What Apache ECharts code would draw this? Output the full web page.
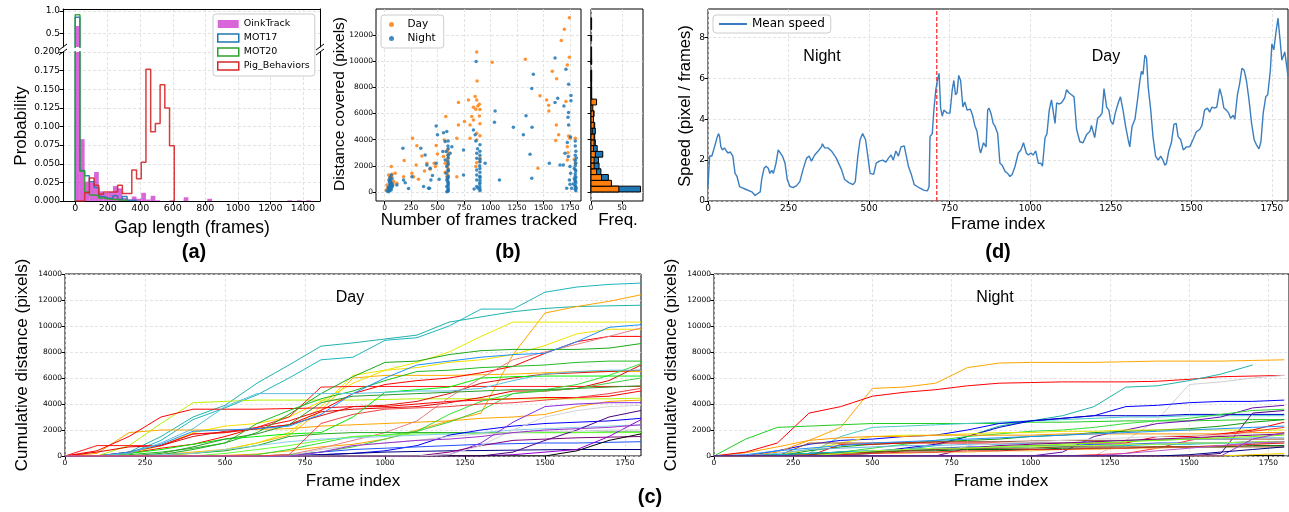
<!DOCTYPE html>
<html><head><meta charset="utf-8">
<script src="https://cdn.jsdelivr.net/npm/echarts@6/dist/echarts.min.js"></script>
<style>html,body{margin:0;padding:0;background:#fff}#c{width:1289px;height:512px}</style>
</head><body><div id="c"></div><script>
// ---------- (a) gap length histograms ----------
const GAP_BIN_WIDTH = 29;
const GAP_OINKTRACK = [0.667,0.083,0.026,0.025,0.039,0.013,0.011,0.012,0.020,0.017,0.004,0.002,0.006,0.003,0.011,0.002,0.007,0.001,0,0,0.001,0,0,0.005,0,0,0,0,0.003,0,0,0,0,0,0,0,0,0,0,0,0,0,0,0,0,0.001,0,0.001,0,0.001];
const GAP_MOT17 = [0.864,0.041,0.034,0.026,0.018,0.006,0.004,0.003,0.007,0.002,0.006,0.001,0.001];
const GAP_MOT20 = [0.917,0.040,0.012,0.008,0.007,0.004,0.003,0.002,0.002,0.001,0.001];
const GAP_PIG = [0,0,0.011,0.031,0.021,0.009,0.012,0.012,0.012,0.021,0.010,0.010,0.0415,0.030,0.052,0.177,0.093,0.104,0.156,0.125,0.074];
const GAP_XTICKS = [0,200,400,600,800,1000,1200,1400];
const GAP_YTICKS_LOW = [0,0.025,0.05,0.075,0.1,0.125,0.15,0.175,0.2];
const GAP_YTICKS_HIGH = [0.5,1.0];

// ---------- (b) scatter + side histogram ----------
const DAY_POINTS = [[1744,13300],[1697,12430],[1668,11570],[1744,10290],[1725,9700],[1583,9220],[1624,8640],[1329,10140],[1015,9910],[870,10680],[873,8480],[1467,7340],[1530,7030],[1549,6620],[1551,6190],[1712,6900],[1621,5120],[1643,4360],[1737,4280],[1615,3920],[1725,3460],[1731,3000],[1725,2450],[1448,1810],[855,7290],[870,7030],[792,7030],[861,6320],[880,6570],[839,6470],[697,6830],[823,5760],[578,5760],[754,5380],[697,5120],[807,5120],[839,5500],[682,4100],[807,4100],[870,4480],[870,3970],[870,2240],[861,1940],[264,4100],[305,3520],[352,2750],[487,3540],[499,2900],[185,2400],[298,2060],[399,2190],[468,2190],[480,1940],[572,2190],[572,1500],[587,1170],[556,2700],[565,3970],[430,1730],[377,1600],[258,1430],[273,1170],[320,970],[179,1170],[682,1170],[63,1940],[100,1430],[69,1170],[38,1300],[85,790],[22,535],[53,790],[60,410],[16,150],[116,660],[45,1000],[55,1200],[70,1350],[30,300],[50,250],[80,600],[600,2600],[595,3200],[600,1800],[590,2000],[598,2800],[600,3000],[595,2400],[600,2200],[600,1600],[598,1300],[900,2300],[900,2600],[895,5800],[900,6300],[895,6700],[900,4300],[900,5200],[1800,2200],[1790,2500],[1800,4100],[1750,4100]];
const NIGHT_POINTS = [[1609,10220],[1712,9375],[1737,8230],[1404,8990],[1389,7900],[864,9960],[1634,7160],[1609,6830],[1759,7360],[1759,6960],[1693,6570],[1737,6060],[1731,5710],[1737,5120],[1756,4200],[1725,3770],[1703,2960],[1734,2700],[1656,2060],[1687,2060],[1750,1940],[1756,1430],[1744,920],[1750,590],[1719,280],[1766,280],[1373,2880],[1392,4940],[1310,4360],[1555,2190],[1335,5810],[1216,4940],[1043,6190],[1037,5320],[949,2190],[1084,920],[1389,1040],[861,3900],[855,4360],[839,4740],[877,3290],[870,2960],[870,2570],[870,1680],[870,1300],[870,920],[870,410],[845,230],[880,300],[745,3210],[745,1300],[587,4610],[572,3850],[581,3080],[572,2450],[587,1940],[581,1430],[587,920],[587,410],[587,25],[556,4530],[550,3080],[619,2960],[635,3460],[487,5040],[499,4360],[487,2190],[452,1250],[437,920],[515,970],[399,2060],[383,2830],[430,1810],[368,410],[415,280],[424,280],[342,3340],[258,1170],[226,255],[173,3340],[179,920],[195,710],[72,410],[38,150],[53,535],[53,920],[63,1300],[38,25],[22,75],[116,535],[600,3900],[598,3500],[600,3300],[600,2800],[600,2600],[598,2300],[600,2100],[600,1700],[600,1600],[600,1200],[600,1100],[598,800],[600,700],[600,600],[600,500],[600,300],[600,200],[600,100],[598,50],[595,1000],[900,3600],[900,3100],[900,2800],[900,2500],[900,2300],[898,2000],[900,1800],[900,1500],[900,1200],[900,1100],[900,900],[900,700],[898,600],[900,400],[900,200],[900,100],[1800,3900],[1800,3500],[1805,3100],[1800,2800],[1800,2400],[1805,2200],[1800,2000],[1800,1700],[1805,1600],[1800,1400],[1800,1200],[1805,1100],[1800,900],[1800,800],[1805,700],[1800,500],[1800,400],[1810,300],[1800,200],[1805,100],[1790,1000],[1790,1800],[1780,600],[1810,2600],[40,200],[45,400],[50,600],[55,800],[60,700],[65,300],[48,100],[70,1000],[42,900],[58,500],[62,150],[35,350],[75,500],[68,650],[52,1100],[47,750]];
const SIDE_BIN_WIDTH = 443;
const SIDE_DAY = [45,33,17,9,5,5,7,4,5,5,2,5,4,4,3,9,1,1,0,1,1,0,1,1,1,0,1,0,1,1];
const SIDE_NIGHT = [80,20,28,16,13,12,19,10,7,6,7,6,3,5,2,3,1,1,1,1,1,0,1,0,0,0,0,0,0,0];
const B_XTICKS = [0,250,500,750,1000,1250,1500,1750];
const B_YTICKS = [0,2000,4000,6000,8000,10000,12000];
const SIDE_XTICKS = [0,50];

// ---------- (d) mean speed ----------
const SPEED = [[0,0.7],[5,2.2],[12,2.2],[17,2.25],[23,2.8],[28,3.1],[33,3.3],[36,3.15],[40,2.65],[45,2.5],[51,2.6],[57,2.45],[62,2.35],[69,2.4],[77,2.2],[84,1.35],[90,1.2],[98,0.7],[105,0.65],[120,0.55],[136,0.45],[146,0.27],[151,0.23],[162,0.45],[167,1.1],[174,1.6],[180,1.7],[187,1.6],[192,1.35],[198,1.5],[203,1.35],[211,1.85],[218,2.5],[223,2.55],[231,2.2],[239,1.85],[246,1.05],[254,0.72],[264,0.65],[275,0.75],[285,0.95],[295,1.55],[306,2.1],[314,2.2],[321,1.95],[331,2.25],[342,2.45],[352,2.65],[355,2.8],[362,2.6],[372,2.6],[383,2.45],[398,2.1],[414,1.55],[424,1.05],[437,0.9],[450,0.8],[457,0.95],[465,2.2],[472,3.0],[480,3.3],[489,3.0],[496,2.2],[503,1.35],[514,1.3],[522,1.85],[532,1.95],[542,2.0],[552,1.9],[560,2.1],[568,2.25],[575,2.0],[583,2.45],[591,2.2],[599,2.65],[609,2.7],[614,2.75],[622,1.7],[630,1.35],[640,0.8],[655,0.65],[671,0.52],[681,0.5],[686,0.7],[689,3.15],[696,3.3],[701,4.45],[707,5.45],[712,5.9],[717,6.25],[722,4.55],[727,4.15],[732,4.45],[743,4.3],[751,4.3],[758,5.45],[763,5.9],[768,5.2],[773,5.3],[778,6.15],[784,5.9],[791,4.6],[797,4.85],[804,4.45],[814,4.5],[821,4.2],[828,3.7],[835,3.4],[842,2.6],[846,2.35],[855,2.85],[863,2.65],[868,4.45],[872,4.55],[878,4.3],[885,3.8],[891,3.65],[899,3.3],[906,1.85],[913,1.75],[922,1.45],[930,1.35],[937,1.2],[944,1.3],[953,1.7],[963,2.35],[971,2.5],[979,2.85],[988,2.35],[994,2.25],[1002,2.35],[1009,2.25],[1017,2.45],[1025,1.85],[1033,1.85],[1038,1.7],[1046,3.1],[1052,3.3],[1059,4.45],[1066,4.95],[1071,4.95],[1077,3.8],[1082,4.8],[1089,4.75],[1097,4.8],[1107,5.05],[1113,5.45],[1120,5.3],[1128,5.2],[1136,5.1],[1144,3.5],[1154,2.9],[1164,2.85],[1175,3.25],[1185,3.4],[1190,3.7],[1200,3.1],[1209,4.05],[1216,4.15],[1223,4.3],[1229,5.5],[1237,4.6],[1244,4.45],[1250,3.9],[1257,3.75],[1264,4.3],[1273,4.8],[1280,5.1],[1288,4.45],[1296,3.65],[1304,3.0],[1309,2.65],[1316,3.65],[1325,4.0],[1333,4.95],[1340,5.85],[1345,6.35],[1350,6.2],[1356,7.15],[1361,7.0],[1366,5.6],[1374,4.45],[1381,3.15],[1389,2.2],[1397,2.0],[1405,2.2],[1412,2.0],[1418,1.75],[1423,1.85],[1430,2.45],[1438,2.85],[1446,3.75],[1453,3.8],[1459,3.15],[1467,3.0],[1475,2.5],[1485,2.65],[1495,2.65],[1505,3.0],[1516,3.4],[1526,3.5],[1533,3.7],[1541,4.45],[1550,4.55],[1557,4.35],[1564,4.6],[1572,4.55],[1579,4.6],[1588,5.5],[1595,5.1],[1601,4.55],[1609,4.45],[1616,4.3],[1622,4.05],[1630,4.2],[1635,4.0],[1643,5.2],[1650,5.75],[1657,6.5],[1664,6.4],[1671,5.9],[1679,4.95],[1687,3.8],[1695,3.0],[1702,2.75],[1710,2.55],[1716,2.9],[1723,4.3],[1731,5.1],[1737,5.2],[1745,6.35],[1750,7.7],[1756,7.4],[1763,8.3],[1769,8.95],[1775,7.95],[1781,6.9],[1790,7.3],[1796,6.6],[1800,6.1]];
const DAY_START_FRAME = 710;
const FRAME_TICKS = [0,250,500,750,1000,1250,1500,1750];
const SPEED_YTICKS = [0,2,4,6,8];

// ---------- (c) cumulative distance ----------
const CUM_FRAMES = [0,100,200,300,400,500,600,700,800,900,1000,1100,1200,1300,1400,1500,1600,1700,1800];
const CUM_YTICKS = [0,2000,4000,6000,8000,10000,12000,14000];
const CUM_DAY = [
[0,0,300,1500,3000,3900,5600,7000,8450,8700,9000,9300,10300,10700,11100,11350,11500,11550,11600],
[0,0,200,1200,2800,3700,4700,6000,7400,7600,8900,9100,10000,11300,11300,12600,13000,13200,13300],
[0,0,0,0,0,50,150,400,700,900,1300,2000,2700,3300,7800,11000,11500,11900,12400],
[0,200,1800,2000,2000,2000,2050,2100,2300,2400,2500,2600,2700,2900,3000,3200,3800,4200,4300],
[0,0,0,100,300,500,1000,1600,3500,6000,6200,6200,6200,6250,6300,6400,6500,6500,6500],
[0,0,0,0,200,500,1000,1800,3800,6200,6600,7200,8000,9200,10300,10300,10300,10300,10300],
[0,0,200,800,1800,2300,2500,3000,4200,5600,6600,6800,7200,7400,7800,8500,9400,9750,9750],
[0,0,800,2500,4100,4200,4300,4300,4300,4300,4350,4400,4400,4400,4400,4400,4400,4400,4450],
[0,0,200,600,900,1500,2200,2700,3500,4800,5500,5800,6000,6400,6900,7900,8800,9200,9200],
[0,300,700,800,1700,1800,2100,2400,3400,3600,3700,3800,4100,4500,5000,5000,5200,5800,7000],
[0,800,800,800,1700,1800,2200,3000,5300,5350,5350,5350,5350,5350,5350,5350,5350,5350,5350],
[0,400,1500,3000,3600,3600,3600,3650,3700,3800,3800,4000,4200,4300,4400,4500,4500,4600,5000],
[0,0,300,800,1500,1900,2100,2400,3100,3800,3900,4200,4800,5600,6000,6300,6400,6500,6600],
[0,0,0,0,0,0,0,100,600,1200,1800,2700,4500,6000,7400,8000,8600,9200,9850],
[0,0,0,100,500,1000,1800,3200,4800,6100,7200,7300,7800,8100,8200,8200,8200,8300,8650],
[0,0,100,300,600,1000,2500,3500,4400,5000,5800,6500,6600,6800,6900,7000,7200,7300,7300],
[0,0,0,0,0,0,100,500,1000,1500,1600,1900,3200,4200,4800,5100,5500,6200,7100],
[0,0,200,500,900,1300,1500,1700,1800,3000,4900,5100,5300,6000,6100,6150,6150,6150,6150],
[0,0,0,0,0,0,0,100,300,700,1300,1900,2600,3500,4800,5000,5200,5600,6000],
[0,0,0,200,700,1300,1700,2400,4100,4600,4700,4800,4900,5000,5100,5100,5200,5300,5400],
[0,0,0,100,200,400,800,1500,1700,1800,1800,1800,1800,1800,1800,1800,1800,1850,1850],
[0,0,0,0,0,200,500,800,1200,1500,1600,1700,1700,1750,1800,1800,1800,1800,1800],
[0,0,300,900,1900,2000,2100,2300,3200,4800,6000,7000,7300,7600,7800,7900,8800,9900,10100],
[0,0,200,1000,2100,3800,4800,4800,4800,4800,4900,5000,5000,5200,5800,6300,6500,6600,6600],
[0,0,0,100,200,500,800,1100,1300,1400,1500,1600,1700,1800,2000,2100,2200,2300,2400],
[0,0,0,0,0,0,0,0,100,200,400,800,1600,2000,2300,2500,2600,2700,2900],
[0,0,0,0,0,0,0,0,300,500,600,700,800,900,950,1000,1000,1050,1100],
[0,0,0,0,0,0,0,0,100,200,300,350,400,420,450,480,500,500,500],
[0,0,0,0,0,0,0,0,0,0,0,0,100,1000,2600,3800,4000,4100,4100],
[0,0,0,0,0,0,0,0,0,0,0,0,0,0,100,300,500,1500,2800],
[0,0,0,0,0,0,0,0,0,0,0,0,0,0,300,1200,2000,3000,3500],
[0,0,0,0,0,0,0,0,0,0,0,0,300,800,1200,1300,1400,1450,1500],
[0,0,0,0,0,0,0,0,0,0,0,0,0,0,0,0,400,1200,1700],
[0,0,0,0,0,0,0,0,0,0,0,0,100,800,2000,3000,3500,3800,3900],
[0,0,0,0,0,0,0,0,500,800,1000,1200,1500,1700,1800,1900,1900,2000,2000],
[0,0,0,0,0,0,0,0,300,800,1000,1200,1300,1500,1800,2000,2100,2200,2400],
[0,0,0,0,0,0,0,100,2500,3200,3600,3700,3800,4000,4100,4300,4500,4800,5200]
];
const CUM_DAY_COLORS = ['#20b2aa','#1fb5c0','#ffa500','#ffa500','#ffb000','#e8e800','#f5e000','#b8f000','#ff0000','#e00000','#ff1a1a','#ff0000','#dd1111','#e88080','#1ca81c','#22bb22','#33e033','#00ee00','#44cc44','#2a9a2a','#22aa22','#66ff33','#1e90ff','#5bc0de','#87ceeb','#0000ff','#1f4fff','#000080','#8a2be2','#9400d3','#4b0082','#800080','#000000','#d3d3d3','#cccccc','#9932cc','#f04040'];
const CUM_NIGHT = [
[0,250,700,1200,2200,5200,5300,5600,6800,7150,7200,7200,7200,7250,7300,7300,7300,7350,7400],
[0,300,1000,3300,3800,4600,4900,5100,5400,5600,5650,5700,5700,5700,5750,5900,6100,6150,6200],
[0,1300,2200,2300,2400,2500,2500,2500,2500,2500,2600,2600,2650,2700,2700,2700,2750,2800,2800],
[0,0,0,0,0,200,500,800,1500,2300,2700,3100,3800,5300,5400,5800,6300,7000,null],
[0,0,0,200,1500,2200,2300,2400,2500,2600,2700,2800,2900,3000,3000,3100,3100,3100,3100],
[0,0,0,0,0,0,0,0,0,0,0,0,0,1200,2800,5500,5700,6000,6200],
[0,0,400,900,1200,1300,1500,1600,2000,2500,2700,2900,3100,3800,3900,4100,4200,4200,4300],
[0,0,0,0,0,300,600,900,1500,2200,2700,2900,3100,3100,3100,3200,3200,3200,3200],
[0,0,0,0,0,0,0,0,0,0,0,300,1500,2000,2500,2700,3000,3700,3900],
[0,0,0,0,0,0,0,0,0,0,0,0,0,0,0,0,200,3300,3500],
[0,0,0,100,300,600,900,1200,1500,1700,1900,2000,2200,2500,2700,2900,3200,3500,3600],
[0,0,0,400,700,900,1000,1100,1200,1300,1500,1600,1800,1900,2000,2100,2300,2600,2800],
[0,0,100,500,1000,1500,1600,1600,1700,1800,1800,1900,1900,2000,2000,2000,2000,2000,2000],
[0,0,300,1200,1400,1500,1500,1600,1600,1600,1600,1700,1700,1700,1700,1700,1700,1800,1800],
[0,0,0,1000,1000,1000,1050,1100,1100,1100,1150,1200,1200,1200,1250,1300,1300,1300,1300],
[0,0,0,0,900,900,1000,1000,1000,1000,1000,1000,1000,1000,1500,1500,1700,2000,2600],
[0,0,0,0,0,0,0,0,0,0,0,0,100,200,600,1200,1600,1900,2200],
[0,100,400,600,800,1000,1100,1200,1300,1400,1500,1600,1700,1800,1900,2000,2100,2200,2300],
[0,0,200,500,600,700,800,800,900,900,1000,1000,1100,1200,1200,1300,1300,1400,1400],
[0,0,0,200,300,400,500,600,700,700,800,800,900,900,1000,1000,1000,1100,1100],
[0,0,0,0,0,0,0,0,800,1000,1100,1200,1300,1400,1500,1600,1600,1700,1700],
[0,0,0,0,0,0,0,0,600,800,900,1000,1100,1200,1300,1400,1500,1600,1700],
[0,0,0,100,200,300,400,500,600,700,800,900,1000,1100,1200,1300,1400,1500,1600],
[0,0,100,200,300,300,400,400,500,500,500,600,600,600,700,700,700,800,800],
[0,0,0,0,0,0,0,0,0,0,0,0,0,0,0,0,0,50,50],
[0,0,0,0,0,0,0,0,0,0,0,0,0,0,0,0,0,100,200],
[0,0,100,200,300,400,500,500,600,600,700,700,800,800,900,900,1000,1000,1100],
[0,0,0,100,100,200,200,300,300,400,400,500,500,600,600,700,800,900,1000],
[0,0,0,0,100,200,300,300,400,400,500,500,600,600,700,700,800,900,1000],
[0,0,0,100,200,300,400,500,600,600,600,700,700,700,700,700,700,700,700],
[0,0,0,0,200,400,500,600,600,700,700,800,800,900,900,1000,1000,1100,1100],
[0,0,0,0,0,0,0,0,0,0,0,0,0,0,0,0,0,1300,1800],
[0,0,0,0,0,0,0,0,0,0,0,0,0,200,400,600,800,1000,1100],
[0,0,0,0,0,0,0,0,0,0,0,0,0,0,0,100,300,500,700]
];
const CUM_NIGHT_COLORS = ['#ffa500','#ff0000','#22cc22','#20b2aa','#48c9c9','#cfcfcf','#0000ff','#0000cd','#6a0dad','#4b0082','#33dd33','#119911','#e6e600','#ff9900','#a0522d','#ee0000','#ff3333','#1e90ff','#66b2e0','#2244ee','#d8d8d8','#800080','#7cfc00','#006400','#000000','#ffd700','#17becf','#ffb347','#d62728','#8b4513','#adff2f','#9932cc','#ba55d3','#000080'];

// ---------- styling ----------
const FT = 'DejaVu Sans';
const FH = 'Liberation Sans';
const OINK_FILL = 'rgba(191,0,191,0.6)';
const GRIDLINE = {show:true, lineStyle:{color:'#dcdcdc', type:[3,2], width:0.8}};

function grid(left, top, width, height, border) {
  return {left, top, width, height, show: border, borderColor:'#000', borderWidth:1,
          backgroundColor:'transparent', containLabel:false, outerBoundsMode:'none'};
}
function axis(gi, min, max, ticks, o) {
  o = o || {};
  return {
    type:'value', gridIndex:gi, min, max, position:o.position,
    axisLine:{show:!!o.line, onZero:false, lineStyle:{color:'#000', width:1}},
    axisTick:{show:o.tick !== false, customValues:ticks, length:3.5, lineStyle:{color:'#000', width:1}},
    axisLabel:{show:o.label !== false, customValues:ticks, fontSize:o.fs || 9, fontFamily:FT, color:'#000', margin:3,
               formatter:o.fmt || (v => String(v))},
    splitLine: o.split === false ? {show:false} : GRIDLINE
  };
}

// histogram helpers (built from the arrays above)
function outline(vals, w) {
  const pts = [[0, 0]];
  vals.forEach((v, i) => { pts.push([i * w, v]); pts.push([(i + 1) * w, v]); });
  pts.push([vals.length * w, 0]);
  return pts;
}
function binRows(vals, w) {
  return vals.map((v, i) => [i * w, (i + 1) * w, v]).filter(d => d[2] > 0);
}
function barRender(params, api) {
  const p0 = api.coord([api.value(0), 0]);
  const p1 = api.coord([api.value(1), api.value(2)]);
  const cs = params.coordSys;
  const r = echarts.graphic.clipRectByRect(
    {x:p0[0], y:p1[1], width:p1[0] - p0[0], height:p0[1] - p1[1]},
    {x:cs.x, y:cs.y, width:cs.width, height:cs.height});
  if (!r || r.height <= 0) return null;
  return {type:'rect', shape:r, style:{fill:OINK_FILL}};
}
function sideRender(params, api) {
  const y0 = api.value(0), y1 = api.value(1), d = api.value(2), n = api.value(3);
  const base = api.coord([0, y0]);
  const children = [];
  if (n > 0) { const p = api.coord([n, y1]);
    children.push({type:'rect', shape:{x:base[0], y:p[1], width:p[0] - base[0], height:base[1] - p[1]},
      style:{fill:'#1f77b4', stroke:'#000', lineWidth:1}}); }
  if (d > 0) { const p = api.coord([d, y1]);
    children.push({type:'rect', shape:{x:base[0], y:p[1], width:p[0] - base[0], height:base[1] - p[1]},
      style:{fill:'#ff7f0e', stroke:'#000', lineWidth:1}}); }
  return {type:'group', children};
}

const series = [];
const HIST_LINES = [['MOT17', GAP_MOT17, '#1f77b4'], ['MOT20', GAP_MOT20, '#2ca02c'], ['Pig_Behaviors', GAP_PIG, '#d62728']];
// (a) grids 0 (upper, values above 0.2 only) and 1 (lower)
[0, 1].forEach(g => {
  series.push({type:'custom', name:'OinkTrack', xAxisIndex:g, yAxisIndex:g, data:binRows(GAP_OINKTRACK, GAP_BIN_WIDTH),
    encode:{x:[0, 1], y:2}, renderItem:barRender, itemStyle:{color:OINK_FILL}, z:1, silent:true});
  HIST_LINES.forEach(([n, vals, c]) => {
    if (g === 0 && Math.max(...vals) < 0.2) return;
    series.push({type:'line', name:n, xAxisIndex:g, yAxisIndex:g, data:outline(vals, GAP_BIN_WIDTH), symbol:'none',
      showSymbol:false, clip:true, lineStyle:{color:c, width:1.5, opacity:0.9}, itemStyle:{color:c}, z:2, silent:true});
  });
});
// (b)
series.push({type:'scatter', name:'Day', xAxisIndex:2, yAxisIndex:2, data:DAY_POINTS, symbolSize:3.5,
  itemStyle:{color:'#ff7f0e', opacity:0.85}, silent:true});
series.push({type:'scatter', name:'Night', xAxisIndex:2, yAxisIndex:2, data:NIGHT_POINTS, symbolSize:3.5,
  itemStyle:{color:'#1f77b4', opacity:0.85}, silent:true});
series.push({type:'custom', name:'side', xAxisIndex:3, yAxisIndex:3,
  data:SIDE_DAY.map((d, i) => [i * SIDE_BIN_WIDTH, (i + 1) * SIDE_BIN_WIDTH, d, SIDE_NIGHT[i]]),
  encode:{x:[2, 3], y:[0, 1]}, renderItem:sideRender, silent:true});
// (d)
series.push({type:'line', name:'Mean speed', xAxisIndex:4, yAxisIndex:4, data:SPEED, symbol:'none', showSymbol:false,
  lineStyle:{color:'#3a7ebf', width:1.4}, itemStyle:{color:'#3a7ebf'}, silent:true, z:3});
series.push({type:'line', name:'day-start', xAxisIndex:4, yAxisIndex:4, symbol:'none', showSymbol:false, silent:true, z:2,
  data:[[DAY_START_FRAME, 0], [DAY_START_FRAME, 9.4]], lineStyle:{color:'#ff2020', type:[4, 2], width:1.2}});
// (c)
CUM_DAY.forEach((vals, i) => series.push({type:'line', xAxisIndex:5, yAxisIndex:5, symbol:'none', showSymbol:false, silent:true,
  data:CUM_FRAMES.map((f, j) => [f, vals[j]]), lineStyle:{color:CUM_DAY_COLORS[i], width:1}}));
CUM_NIGHT.forEach((vals, i) => series.push({type:'line', xAxisIndex:6, yAxisIndex:6, symbol:'none', showSymbol:false, silent:true,
  data:CUM_FRAMES.map((f, j) => [f, vals[j]]), lineStyle:{color:CUM_NIGHT_COLORS[i], width:1}}));

function txt(text, x, y, size, o) {
  o = o || {};
  return {type:'text', x, y, rotation:o.rot ? Math.PI / 2 : 0, silent:true, z:100,
    style:{text, fontSize:size, fontFamily:o.font || FH, fontWeight:o.bold ? 'bold' : 'normal', fill:'#000',
      align:'center', verticalAlign:'middle', textAlign:'center', textVerticalAlign:'middle'}};
}
function brk(x, y) {
  return {type:'line', silent:true, z:100, shape:{x1:x - 4, y1:y + 3, x2:x + 4, y2:y - 3}, style:{stroke:'#000', lineWidth:1}};
}

const option = {
  animation:false,
  grid:[grid(63, 9, 257, 38, false), grid(63, 52, 257, 149, false), grid(376, 9, 205, 192, true), grid(591, 9, 52, 192, true),
        grid(708, 9, 580, 192, true), grid(65, 274, 576, 182, true), grid(714, 274, 575, 182, true)],
  xAxis:[
    axis(0, -75, 1505, GAP_XTICKS, {position:'top', line:true, tick:false, label:false}),
    axis(1, -75, 1505, GAP_XTICKS, {position:'bottom', line:true, fs:9.5}),
    axis(2, -81, 1854, B_XTICKS, {fs:7.5}),
    axis(3, 0, 84, SIDE_XTICKS, {fs:7.5}),
    axis(4, 0, 1800, FRAME_TICKS, {fs:9}),
    axis(5, 0, 1800, FRAME_TICKS, {fs:7.5}),
    axis(6, 0, 1815, FRAME_TICKS, {fs:7.5})
  ],
  yAxis:[
    axis(0, 0.2, 1.045, GAP_YTICKS_HIGH, {position:'left', line:true, fs:9, fmt:v => v.toFixed(1)}),
    axis(1, 0, 0.2, GAP_YTICKS_LOW, {position:'left', line:true, fs:9, fmt:v => v.toFixed(3)}),
    axis(2, -690, 13970, B_YTICKS, {fs:7.5}),
    axis(3, -690, 13970, B_YTICKS, {label:false}),
    axis(4, 0, 9.4, SPEED_YTICKS, {fs:9}),
    axis(5, 0, 14000, CUM_YTICKS, {fs:7.5}),
    axis(6, 0, 14000, CUM_YTICKS, {fs:7.5}),
    axis(0, 0.2, 1.045, GAP_YTICKS_HIGH, {position:'right', line:true, tick:false, label:false, split:false}),
    axis(1, 0, 0.2, GAP_YTICKS_LOW, {position:'right', line:true, tick:false, label:false, split:false})
  ],
  legend:[
    {left:213, top:14, orient:'vertical', selectedMode:false, padding:[5, 5, 5, 4], itemGap:4, itemWidth:21, itemHeight:8,
     backgroundColor:'#fff', borderColor:'#cccccc', borderWidth:1, borderRadius:3,
     textStyle:{fontSize:9.5, fontFamily:FT, color:'#000'},
     data:[{name:'OinkTrack', icon:'rect', itemStyle:{color:OINK_FILL, borderWidth:0}},
           {name:'MOT17', icon:'rect', itemStyle:{color:'rgba(255,255,255,0)', borderColor:'#1f77b4', borderWidth:1.5}},
           {name:'MOT20', icon:'rect', itemStyle:{color:'rgba(255,255,255,0)', borderColor:'#2ca02c', borderWidth:1.5}},
           {name:'Pig_Behaviors', icon:'rect', itemStyle:{color:'rgba(255,255,255,0)', borderColor:'#d62728', borderWidth:1.5}}]},
    {left:381, top:15, orient:'vertical', selectedMode:false, padding:[4, 8, 4, 8], itemGap:3, itemWidth:22, itemHeight:5,
     backgroundColor:'#fff', borderColor:'#cccccc', borderWidth:1, borderRadius:3,
     textStyle:{fontSize:10.5, fontFamily:FT, color:'#000'},
     data:[{name:'Day', icon:'circle'}, {name:'Night', icon:'circle'}]},
    {left:713, top:15, orient:'vertical', selectedMode:false, padding:[3, 6, 3, 5], itemWidth:28, itemHeight:10,
     backgroundColor:'#fff', borderColor:'#cccccc', borderWidth:1, borderRadius:3,
     textStyle:{fontSize:12, fontFamily:FT, color:'#000'},
     data:[{name:'Mean speed', itemStyle:{opacity:0}}]}
  ],
  graphic:[
    txt('Probability', 21, 126, 17, {rot:true}),
    txt('Gap length (frames)', 192, 228, 17.5),
    txt('(a)', 194, 252, 20, {bold:true}),
    txt('Distance covered (pixels)', 340, 104, 15.5, {rot:true}),
    txt('Number of frames tracked', 479, 220, 17),
    txt('Freq.', 618, 220, 17),
    txt('(b)', 508, 252, 20, {bold:true}),
    txt('Speed (pixel / frames)', 685, 106, 16.5, {rot:true}),
    txt('Frame index', 998, 224, 17),
    txt('(d)', 998, 252, 20, {bold:true}),
    txt('Night', 822, 57, 16),
    txt('Day', 1106, 57, 16),
    txt('Cumulative distance (pixels)', 22, 365, 17, {rot:true}),
    txt('Cumulative distance (pixels)', 671, 365, 17, {rot:true}),
    txt('Frame index', 353, 481, 17),
    txt('Frame index', 1001, 481, 17),
    txt('Day', 350, 298, 16),
    txt('Night', 995, 298, 16),
    txt('(c)', 650, 497, 20, {bold:true}),
    brk(63, 47), brk(63, 52), brk(320, 47), brk(320, 52)
  ],
  series
};
const chart = echarts.init(document.getElementById('c'), null, {renderer:'canvas'});
chart.setOption(option);
</script></body></html>
